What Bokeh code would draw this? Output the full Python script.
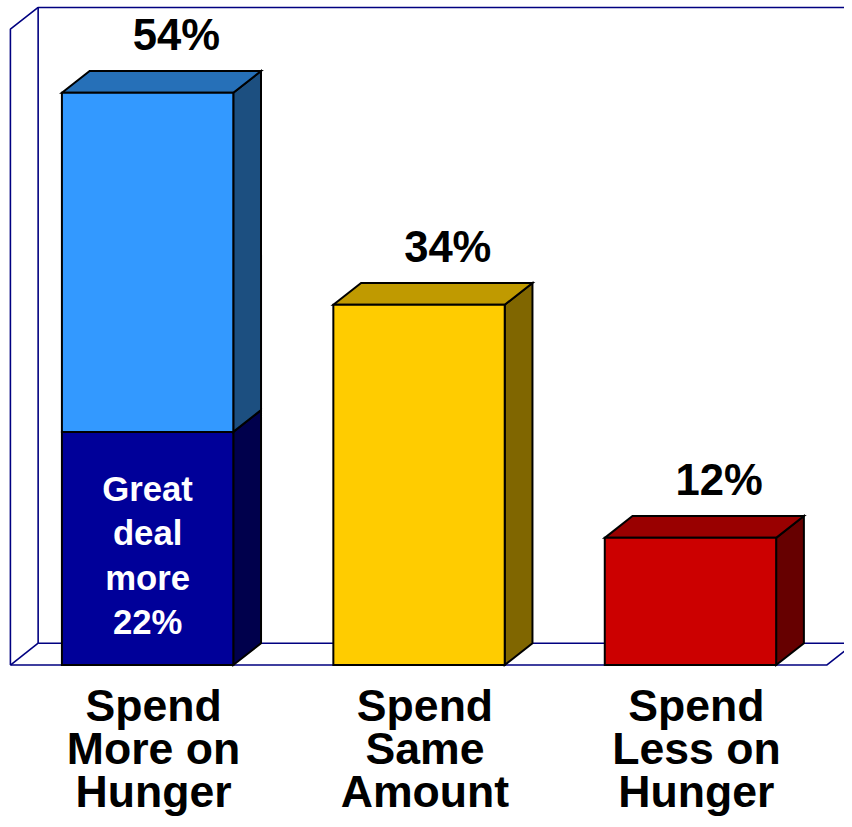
from bokeh.plotting import figure
from bokeh.models import Range1d
from bokeh.core.properties import value
from bokeh.embed import file_html
from bokeh.resources import INLINE

# ---- data ----
categories = [["Spend", "More on", "Hunger"], ["Spend", "Same", "Amount"], ["Spend", "Less on", "Hunger"]]
totals = [54, 34, 12]
total_labels = ["54%", "34%", "12%"]
great_deal = 22
great_deal_lines = ["Great", "deal", "more", "22%"]

# ---- styles ----
front_cols = ["#3399FF", "#FFCC00", "#CC0000"]
top_cols = ["#2670B8", "#C09A00", "#990000"]
side_cols = ["#1C4F80", "#806600", "#660000"]
sub_front = "#000099"
sub_side = "#00004C"
wall_col = "#000080"
FONT = value("Liberation Sans")

W, H = 844, 819
REF_W, REF_H = 852, 827
S = W / REF_W            # screen px per layout px
PX = 10.7                # layout pixels per percent
BASE = 671               # layout y of the value 0
y0 = -(REF_H - BASE) / PX
y1 = BASE / PX
DX = 28
DY = 22 / PX
BAR_W = 173
LEFT0 = 62
PITCH = 274
WALL_TOP = 60

p = figure(width=W, height=H, output_backend="svg", toolbar_location=None,
           x_range=Range1d(0, REF_W), y_range=Range1d(y0, y1), min_border=0)
p.axis.visible = False
p.grid.visible = False
p.outline_line_color = None
p.background_fill_color = "white"

# ---- walls ----
LW, BW = 10, 38
RIGHT_FRONT = 834
wl = dict(line_color=wall_col, line_width=1.6)
p.line([BW, BW, 900], [DY, WALL_TOP + DY, WALL_TOP + DY], **wl)
p.line([LW, LW, BW], [0, WALL_TOP, WALL_TOP + DY], **wl)
p.line([LW, BW], [0, DY], **wl)
p.line([BW, 900], [DY, DY], **wl)
p.line([LW, RIGHT_FRONT, RIGHT_FRONT + DX], [0, 0, DY], **wl)

# ---- bars ----
def box(x0, b, t, front, top, side, draw_top=True):
    x1 = x0 + BAR_W
    p.patch([x1, x1 + DX, x1 + DX, x1], [b, b + DY, t + DY, t], fill_color=side,
            line_color="black", line_width=2, line_join="miter")
    if draw_top:
        p.patch([x0, x0 + DX, x1 + DX, x1], [t, t + DY, t + DY, t], fill_color=top,
                line_color="black", line_width=2, line_join="miter")
    p.patch([x0, x0, x1, x1], [b, t, t, b], fill_color=front,
            line_color="black", line_width=2, line_join="miter")

for i, v in enumerate(totals):
    x0 = LEFT0 + i * PITCH
    if i == 0:
        box(x0, 0, great_deal, sub_front, sub_front, sub_side, draw_top=False)
        box(x0, great_deal, v, front_cols[i], top_cols[i], side_cols[i])
    else:
        box(x0, 0, v, front_cols[i], top_cols[i], side_cols[i])

# ---- labels ----
def off(layout_px, fs):
    # baseline correction for svg text placement
    return (layout_px - 0.37 * fs) * S

centers = [LEFT0 + i * PITCH + BAR_W / 2 for i in range(3)]
FS_PCT, FS_CAT, FS_IN = 44, 45, 35
p.text(x=[c + 29 for c in centers], y=totals, text=total_labels, y_offset=off(-42, FS_PCT),
       text_font=FONT, text_font_style="bold", text_font_size=f"{FS_PCT * S:.1f}px",
       text_align="center", text_baseline="alphabetic", text_color="black")

for i, lines in enumerate(categories):
    for j, ln in enumerate(lines):
        p.text(x=[centers[i] + 6], y=[0], text=[ln], y_offset=off(58 + 43 * j, FS_CAT),
               text_font=FONT, text_font_style="bold", text_font_size=f"{FS_CAT * S:.1f}px",
               text_align="center", text_baseline="alphabetic", text_color="black")

for j, ln in enumerate(great_deal_lines):
    p.text(x=[centers[0]], y=[0], text=[ln], y_offset=off(-165 + 45 * j, FS_IN),
           text_font=FONT, text_font_style="bold", text_font_size=f"{FS_IN * S:.1f}px",
           text_align="center", text_baseline="alphabetic", text_color="white")

open("out.html", "w").write(file_html(p, INLINE))
